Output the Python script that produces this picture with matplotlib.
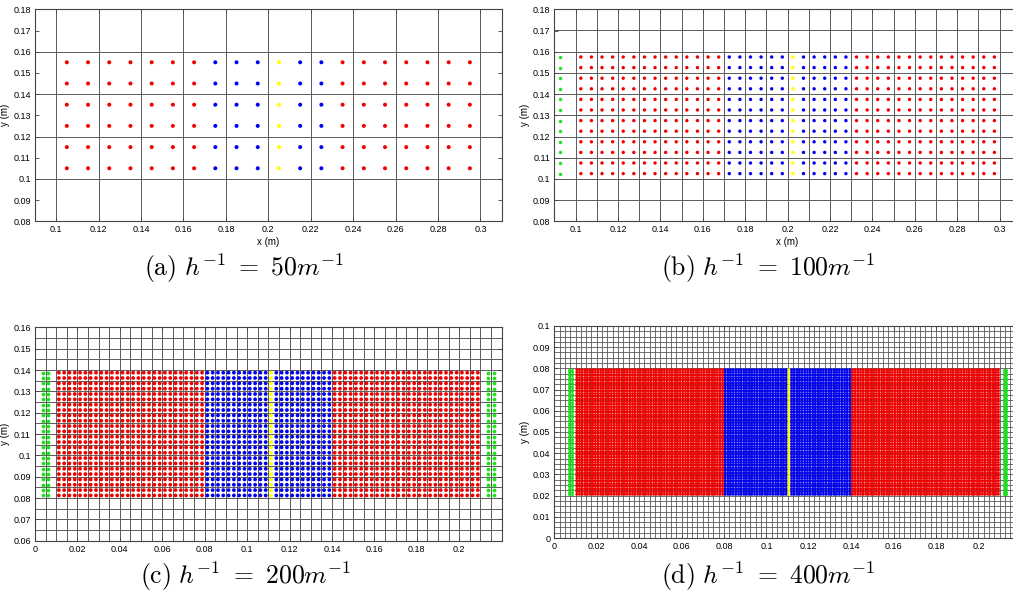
import numpy as np
import matplotlib
matplotlib.use('Agg')
import matplotlib.pyplot as plt
from matplotlib.ticker import FormatStrFormatter

plt.rcParams['font.family'] = ['Liberation Sans', 'DejaVu Sans']
plt.rcParams['mathtext.fontset'] = 'cm'

# values
h_inv = [50, 100, 200, 400]
tags = ['(a)', '(b)', '(c)', '(d)']
dp = [0.01, 0.005, 0.0025, 0.00125]            # particle spacing (cell = 2*dp)
domain_x = [(0.10, 0.30), (0.10, 0.30), (0.01, 0.21), (0.01, 0.21)]
domain_y = [(0.10, 0.16), (0.10, 0.16), (0.08, 0.14), (0.02, 0.08)]
blue_x = [(0.17, 0.23), (0.17, 0.23), (0.08, 0.14), (0.08, 0.14)]
xlims = [(0.09, 0.31), (0.09, 0.31), (0.0, 0.22), (0.0, 0.22)]
ylims = [(0.08, 0.18), (0.08, 0.18), (0.06, 0.16), (0.0, 0.10)]
xtick_start = [0.10, 0.10, 0.0, 0.0]
xtick_end = [0.30, 0.30, 0.20, 0.20]

# figure layout (pixels of the 1013x607 reference)
W, H = 1013, 607
boxes = [(35, 9.3, 501.7, 221.3), (554.3, 9.3, 1020.9, 221.3),
         (35, 327.3, 501.7, 540.8), (554.3, 326, 1020.9, 538)]
caption_xy = [(244, 268), (768, 268), (246, 576), (768, 576)]
dot_px = [4.0, 3.4, 3.8, 3.0]
grid_lw = [0.7, 0.7, 0.7, 0.6]

RED, BLUE, YELLOW, GREEN = '#f00000', '#0000f0', '#ffff00', '#20e020'

fig = plt.figure(figsize=(W / 100, H / 100), dpi=100)

for i in range(4):
    x0, y0, x1, y1 = boxes[i]
    ax = fig.add_axes([x0 / W, 1 - y1 / H, (x1 - x0) / W, (y1 - y0) / H])
    d = dp[i]
    cell = 2 * d

    # background mesh
    xl, yl = xlims[i], ylims[i]
    gx = np.arange(np.ceil(xl[0] / cell - 1e-6), np.floor(xl[1] / cell + 1e-6) + 1) * cell
    gy = np.arange(np.ceil(yl[0] / cell - 1e-6), np.floor(yl[1] / cell + 1e-6) + 1) * cell
    ax.vlines(gx, yl[0], yl[1], color='#5a5a5a', lw=grid_lw[i], zorder=1)
    ax.hlines(gy, xl[0], xl[1], color='#5a5a5a', lw=grid_lw[i], zorder=1)

    # particles
    dx0, dx1 = domain_x[i]
    dy0, dy1 = domain_y[i]
    nx = int(round((dx1 - dx0) / d))
    ny = int(round((dy1 - dy0) / d))
    cols = dx0 + (np.arange(nx) + 0.5) * d
    rows = dy0 + (np.arange(ny) + 0.5) * d
    X, Y = np.meshgrid(cols, rows)
    X, Y = X.ravel(), Y.ravel()
    b0, b1 = blue_x[i]
    centre = 0.5 * (b0 + b1)
    colours = np.where((X > b0) & (X < b1), BLUE, RED).astype(object)
    colours[np.abs(X - (centre + 0.5 * d)) < 0.25 * d] = YELLOW

    s = (0.72 * dot_px[i]) ** 2
    ax.scatter(X, Y, s=s, c=list(colours), linewidths=0, zorder=2)

    gcols = np.array([dx0 - 2.5 * d, dx0 - 1.5 * d, dx1 + 1.5 * d, dx1 + 2.5 * d])
    GX, GY = np.meshgrid(gcols, rows)
    ax.scatter(GX.ravel(), GY.ravel(), s=s, c=GREEN, linewidths=0, zorder=2)

    ax.set_xlim(*xl)
    ax.set_ylim(*yl)
    ax.set_xticks(np.arange(xtick_start[i], xtick_end[i] + 1e-6, 0.02))
    ax.set_yticks(np.arange(yl[0], yl[1] + 1e-6, 0.01))
    ax.xaxis.set_major_formatter(FormatStrFormatter('%g'))
    ax.yaxis.set_major_formatter(FormatStrFormatter('%g'))
    ax.tick_params(direction='in', length=3, width=0.6, labelsize=6.5, pad=3,
                   top=True, right=True, color='#444444')
    for sp in ax.spines.values():
        sp.set_color('#444444')
        sp.set_linewidth(0.8)
    ax.set_ylabel('y (m)', fontsize=7, labelpad=2)
    if i < 2:
        ax.set_xlabel('x (m)', fontsize=7, labelpad=2)

    cx, cy = caption_xy[i]
    fig.text(cx / W, 1 - cy / H,
             r'$\mathrm{%s}\ h^{-1}\ =\ %dm^{-1}$' % (tags[i], h_inv[i]),
             ha='center', va='center', fontsize=18.5)

fig.savefig('out.png', dpi=100)
